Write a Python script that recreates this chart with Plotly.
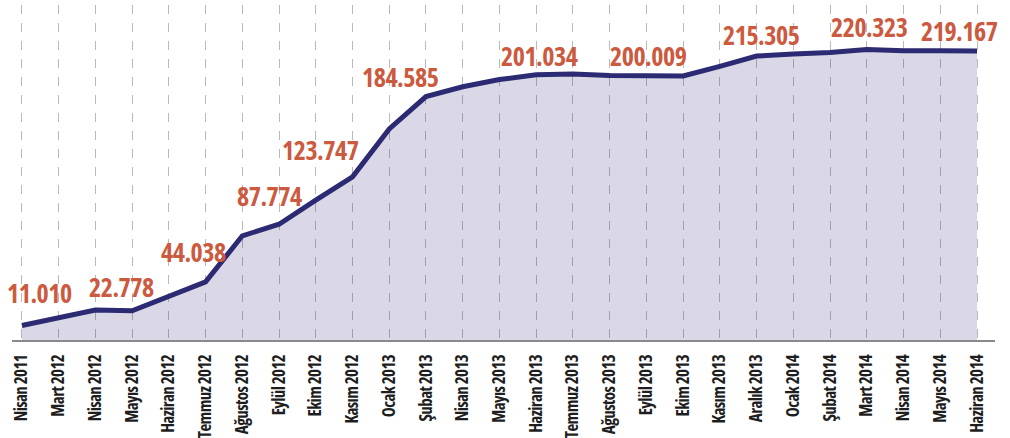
import plotly.graph_objects as go

months = ["Nisan 2011", "Mart 2012", "Nisan 2012", "Mayıs 2012", "Haziran 2012",
          "Temmuz 2012", "Ağustos 2012", "Eylül 2012", "Ekim 2012", "Kasım 2012",
          "Ocak 2013", "Şubat 2013", "Nisan 2013", "Mayıs 2013", "Haziran 2013",
          "Temmuz 2013", "Ağustos 2013", "Eylül 2013", "Ekim 2013", "Kasım 2013",
          "Aralık 2013", "Ocak 2014", "Şubat 2014", "Mart 2014", "Nisan 2014",
          "Mayıs 2014", "Haziran 2014"]

values = [11.010, 17.0, 22.778, 22.2, 33.0,
          44.038, 79.0, 87.774, 106.0, 123.747,
          160.0, 184.585, 192.0, 197.5, 201.034,
          201.6, 200.5, 200.009, 200.2, 207.5,
          215.305, 216.8, 218.0, 220.323, 219.3,
          219.3, 219.167]

label_idx = [0, 2, 5, 7, 9, 11, 14, 17, 20, 23, 26]
label_text = ["11.010", "22.778", "44.038", "87.774", "123.747", "184.585",
              "201.034", "200.009", "215.305", "220.323", "219.167"]

# pixel offsets of each label from its point (style only)
label_shift = [(18, 32), (26, 23), (-12, 30), (-10, 28), (-32, 27), (-25, 20),
               (3, 19), (2, 20), (5, 21), (3, 22), (-18, 20)]

LINE = "#2b2a72"
LABEL = "#cc5a3f"
COND = "Open Sans, DejaVu Sans, sans-serif"


def cond(s, spacing=0.0):
    style = "font-stretch:75%"
    if spacing:
        style += ";letter-spacing:%.1fpx" % spacing
    return '<span style="' + style + '">' + s + '</span>'


fig = go.Figure()
fig.add_trace(go.Scatter(
    x=months, y=values, mode="lines",
    line=dict(color=LINE, width=5, shape="linear"),
    fill="tozeroy", fillcolor="rgba(60,50,120,0.19)",
    hoverinfo="skip", showlegend=False,
))

for i, t, (dx, dy) in zip(label_idx, label_text, label_shift):
    fig.add_annotation(
        x=months[i], y=values[i], text=cond(t, -0.5), showarrow=False,
        xshift=dx, yshift=dy,
        font=dict(family=COND, size=26, color=LABEL, weight="bold"),
    )

fig.update_layout(
    width=1010, height=438,
    margin=dict(l=12, r=15, t=5, b=98),
    plot_bgcolor="white", paper_bgcolor="white",
    xaxis=dict(
        type="category", range=[-0.27, 26.49], automargin=False,
        tickvals=months, ticktext=[cond(m, -0.6) for m in months],
        showgrid=True, gridcolor="#b9b9b9", gridwidth=1, griddash="dash",
        showline=True, linecolor="#8a8a8a", linewidth=2,
        ticks="", tickangle=-90, ticklabelstandoff=6,
        tickfont=dict(family=COND, size=17, color="#1e1e1e", weight="bold"),
        fixedrange=True,
    ),
    yaxis=dict(
        range=[0, 254], showgrid=False, showticklabels=False, zeroline=False,
        showline=False, fixedrange=True, automargin=False,
    ),
)

fig.write_html("out.html", config={"displayModeBar": False},
               post_script="document.body.style.margin='0px';")
